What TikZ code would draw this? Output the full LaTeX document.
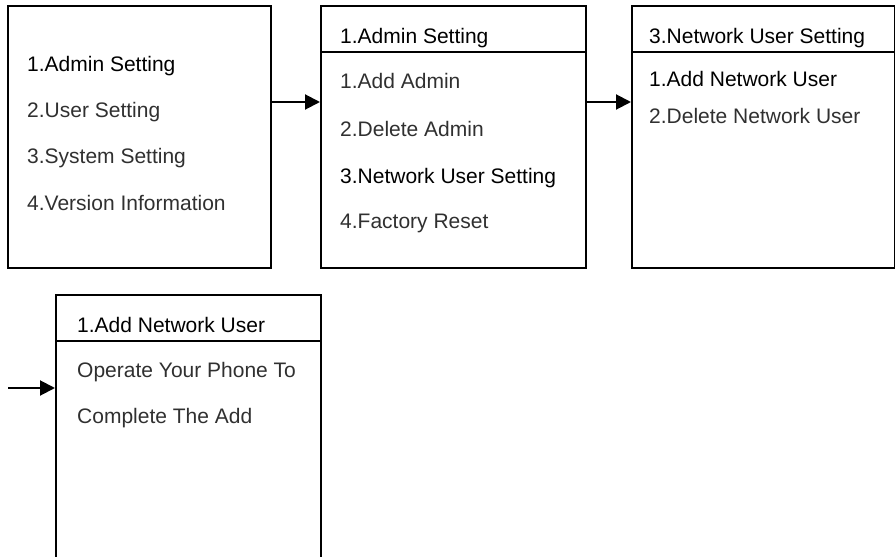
\documentclass[tikz,border=0pt]{standalone}
\usepackage{fontspec}
\setmainfont{Liberation Sans}
\usetikzlibrary{arrows.meta,positioning}
\definecolor{itemgray}{RGB}{48,48,48}
\tikzset{
    screen/.style={
    rectangle,draw=black,line width=1.9pt,anchor=north west,inner sep=0pt,minimum height=262pt
    },
    head/.style={
    anchor=base west,inner sep=0pt,text=black,font=\fontsize{21}{24}\selectfont
    },
    item/.style={
    anchor=base west,inner sep=0pt,text=itemgray,font=\fontsize{21}{24}\selectfont
    },
    pick/.style={
    head
    },
    flow/.style={
    line width=2pt,-{Triangle[length=15pt,width=15pt]}
    },
    rule/.style={
    line width=1.9pt
    },
}

\begin{document}
\begin{tikzpicture}[x=1pt,y=-1pt]
   \clip (0,0) rectangle (895,557);
   \coordinate (row1) at (0,102);
   \coordinate (row2) at (0,388);
   \coordinate (split1) at (0,52);
   \coordinate (split2) at (0,341);

   % main menu
   \node[screen,minimum width=263pt] (M) at (7,5) {};
   \node[pick] (M1) at (27,71) {1.Admin Setting};
   \node[item] (M2) at (27,117) {2.User Setting};
   \node[item] (M3) at (27,163) {3.System Setting};
   \node[item] (M4) at (27,210) {4.Version Information};

   % admin setting
   \node[screen,minimum width=265pt] (A) at (320,5) {};
   \node[head] (Ah) at (340,43) {1.Admin Setting};
   \node[item] (A1) at (340,88) {1.Add Admin};
   \node[item] (A2) at (340,136) {2.Delete Admin};
   \node[pick] (A3) at (340,183) {3.Network User Setting};
   \node[item] (A4) at (340,228) {4.Factory Reset};

   % network user setting
   \node[screen,minimum width=263pt] (U) at (631,5) {};
   \node[head] (Uh) at (649,43) {3.Network User Setting};
   \node[pick] (U1) at (649,86) {1.Add Network User};
   \node[item] (U2) at (649,123) {2.Delete Network User};

   % add network user
   \node[screen,minimum width=265pt,minimum height=280pt] (N) at (55,294) {};
   \node[head] (Nh) at (77,332) {1.Add Network User};
   \node[item] (N1) at (77,377) {Operate Your Phone To};
   \node[item] (N2) at (77,423) {Complete The Add};
   \coordinate (start) at (8,388);

   \draw[rule] (A.west |- split1) -- (A.east |- split1);
   \draw[rule] (U.west |- split1) -- (U.east |- split1);
   \draw[rule] (N.west |- split2) -- (N.east |- split2);

   \draw[flow] (M.east |- row1) -- (A.west |- row1);
   \draw[flow] (A.east |- row1) -- (U.west |- row1);
   \draw[flow] (start) -- (N.west |- row2);
\end{tikzpicture}
\end{document}
